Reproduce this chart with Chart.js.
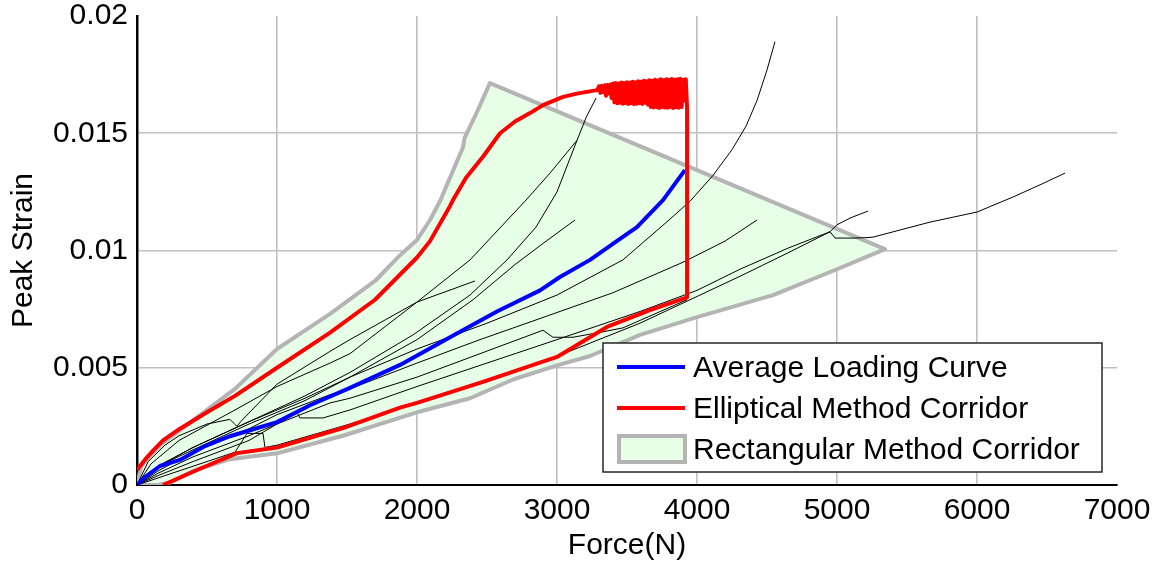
<!DOCTYPE html>
<html>
<head>
<meta charset="utf-8">
<title>Peak Strain vs Force</title>
<script src="https://cdn.jsdelivr.net/npm/chart.js@4.4.1/dist/chart.umd.min.js"></script>
<style>
  html, body { margin: 0; padding: 0; background: #fff; }
  #wrap { width: 1156px; height: 564px; }
</style>
</head>
<body>
<div id="wrap"><canvas id="chart"></canvas></div>
<script>
// axis ticks
const forceTicks = [0, 1000, 2000, 3000, 4000, 5000, 6000, 7000];
const forceTickLabels = ['0', '1000', '2000', '3000', '4000', '5000', '6000', '7000'];
const strainTicks = [0, 0.005, 0.01, 0.015, 0.02];
const strainTickLabels = ['0', '0.005', '0.01', '0.015', '0.02'];

const seriesLabels = ['Average Loading Curve', 'Elliptical Method Corridor', 'Rectangular Method Corridor'];

// [force (N), peak strain]
const averageCurve = [[0,0],[57,0.00034],[164,0.00081],[307,0.00107],[486,0.00166],[664,0.00208],[843,0.0024],
  [1000,0.00268],[1236,0.0034],[1521,0.00414],[1879,0.00512],[2236,0.0063],[2571,0.0074],[2879,0.0083],
  [3021,0.00887],[3236,0.0096],[3450,0.0105],[3571,0.011],[3757,0.01215],[3914,0.01343]];

const ellipticalUpper = [[0,0.00064],[60,0.0011],[120,0.0015],[186,0.0019],[307,0.0024],[500,0.0031],[700,0.0038],
  [1000,0.005],[1379,0.0065],[1700,0.0079],[2000,0.0097],[2093,0.0104],[2236,0.0119],[2257,0.01215],[2350,0.0131],
  [2471,0.014],[2593,0.015],[2700,0.0155],[2807,0.01586],[2900,0.0162],[3043,0.01655],[3150,0.0167],[3286,0.01684]];
// noisy end of the upper corridor edge
const ellipticalNoise = [[3290,0.01686],[3300,0.017],[3310,0.01672],[3320,0.01702],[3330,0.01676],[3340,0.01705],
  [3350,0.0166],[3360,0.01706],[3370,0.0167],[3380,0.01708],[3390,0.0165],[3400,0.01712],[3410,0.01632],
  [3420,0.01714],[3430,0.01628],[3440,0.01712],[3450,0.0163],[3460,0.01716],[3470,0.01626],[3480,0.01714],
  [3490,0.01628],[3500,0.01718],[3510,0.01625],[3520,0.01716],[3530,0.01628],[3540,0.0172],[3550,0.01624],
  [3560,0.01718],[3570,0.01626],[3580,0.01722],[3590,0.01628],[3600,0.0172],[3610,0.01625],[3620,0.01724],
  [3630,0.0163],[3640,0.01722],[3650,0.01622],[3660,0.01726],[3670,0.01612],[3680,0.01724],[3690,0.0161],
  [3700,0.01728],[3710,0.01612],[3720,0.01726],[3730,0.01608],[3740,0.0173],[3750,0.01612],[3760,0.01727],
  [3770,0.0161],[3780,0.0173],[3790,0.01609],[3800,0.01728],[3810,0.01612],[3820,0.01731],[3830,0.01608],
  [3840,0.01728],[3850,0.01611],[3860,0.0173],[3870,0.01609],[3880,0.01732],[3890,0.01612],[3900,0.01728],
  [3910,0.0164],[3920,0.0173],[3925,0.0166],[3929,0.0161]];
const ellipticalLower = [[3929,0.008],[3664,0.00746],[3357,0.00674],[3000,0.00546],[2471,0.0044],[2000,0.0035],
  [1879,0.0033],[1471,0.00243],[1000,0.0016],[714,0.00136],[429,0.00064],[186,0]];

const rectUpper = [[0,0],[30,0.0008],[100,0.0013],[186,0.0018],[300,0.0023],[500,0.0032],[700,0.0041],[1000,0.0058],
  [1379,0.0073],[1700,0.0087],[1879,0.0098],[2000,0.01045],[2093,0.0113],[2164,0.0121],[2250,0.0133],[2329,0.0144],
  [2340,0.0148],[2420,0.0158],[2521,0.01714]];
const rectLower = [[5343,0.01006],[5000,0.0092],[4543,0.0081],[4000,0.00716],[3593,0.0064],[3236,0.0055],[3000,0.0051],
  [2686,0.0045],[2379,0.0037],[2000,0.0031],[1471,0.0021],[1000,0.00135],[664,0.0011],[400,0.0006],[236,0.0001],
  [150,0],[0,0]];

// individual test curves
const test1 = [[0,0],[150,0.0008],[400,0.0016],[800,0.0027],[1200,0.0037],[1521,0.0046],[2000,0.0058],[2500,0.0069],
  [3000,0.0081],[3471,0.0096],[3800,0.0113],[3950,0.0121],[4114,0.0132],[4250,0.0143],[4350,0.0153],[4429,0.0164],
  [4500,0.0177],[4557,0.0189]];
const test2 = [[0,0],[150,0.0008],[400,0.0016],[800,0.0027],[1200,0.0038],[1521,0.0048],[1971,0.0064],[2379,0.0081],
  [2643,0.0096],[2850,0.011],[3000,0.0125],[3143,0.0147],[3210,0.0157],[3279,0.0165]];
const test3 = [[0,0],[100,0.0009],[300,0.0019],[700,0.0032],[1000,0.0042],[1379,0.0052],[1521,0.0056],[2000,0.0078],
  [2379,0.0096],[2771,0.0121],[2950,0.0133],[3143,0.0147]];
const test4 = [[0,0],[150,0.0008],[400,0.0015],[800,0.0026],[1200,0.0036],[1521,0.0046],[2000,0.0062],[2400,0.0079],
  [2700,0.0094],[2900,0.0103],[3129,0.0113]];
const test5 = [[0,0],[80,0.001],[200,0.0017],[300,0.0021],[500,0.0026],[664,0.0028],[714,0.0025],[740,0.0027],
  [1000,0.0043],[1379,0.0057],[1521,0.0062],[2000,0.0078],[2414,0.0087]];
const test6 = [[0,0],[150,0.0006],[400,0.0014],[800,0.0024],[1000,0.003],[1379,0.00385],[1521,0.0041],[2000,0.0052],
  [2450,0.0062],[2879,0.0071],[3400,0.0082],[3900,0.0095],[4200,0.0104],[4429,0.0113]];
const test7 = [[0,0],[150,0.0005],[400,0.0012],[800,0.0021],[1000,0.0026],[1379,0.0035],[1521,0.0037],[2000,0.0046],
  [2450,0.0056],[2900,0.0066],[2971,0.0063],[3114,0.0063],[3300,0.0065],[3471,0.0067],[3700,0.0073],[3929,0.0079]];
const test8 = [[0,0],[150,0.0004],[400,0.001],[800,0.0019],[1143,0.0031],[1164,0.00286],[1329,0.00286],[1521,0.0032],
  [2000,0.0042],[2500,0.0052],[3000,0.0062],[3593,0.0074],[4000,0.0083],[4307,0.0092],[4650,0.0101],[4950,0.0108],
  [4986,0.01053],[5114,0.01053],[5214,0.01055],[5257,0.01057],[5664,0.01121],[6000,0.01164],[6257,0.01228],
  [6450,0.0128],[6629,0.0133]];
const test9 = [[0,0],[200,0.0004],[500,0.001],[700,0.0014],[786,0.0022],[900,0.0022],[914,0.0016],[1000,0.0017],
  [1521,0.0026],[2000,0.0035],[2500,0.0044],[2879,0.0052],[3593,0.0069],[4307,0.0089],[4650,0.0099],[4950,0.0108],
  [5000,0.0111],[5100,0.0114],[5221,0.01168]];
const tests = [test1, test2, test3, test4, test5, test6, test7, test8, test9];

function toXY(pairs) {
  return pairs.map(p => ({x: p[0], y: p[1]}));
}

const FONT = "'Liberation Sans', Arial, sans-serif";
Chart.defaults.font.family = FONT;
Chart.defaults.color = '#000';

const datasets = [
  {
    label: seriesLabels[0],
    data: toXY(averageCurve),
    borderColor: '#0000ff',
    borderWidth: 4,
    order: 2
  },
  {
    label: seriesLabels[1],
    data: toXY(ellipticalUpper.concat(ellipticalNoise, ellipticalLower)),
    borderColor: '#ff0000',
    borderWidth: 4,
    order: 1
  },
  {
    label: seriesLabels[2],
    data: toXY(rectUpper.concat(rectLower)),
    borderColor: '#b4b4b4',
    backgroundColor: 'rgb(230,255,230)',
    borderWidth: 4,
    fill: 'shape',
    order: 4
  }
];
tests.forEach((t, i) => {
  datasets.push({
    label: 'Test ' + (i + 1),
    data: toXY(t),
    borderColor: '#000',
    borderWidth: 1,
    order: 3
  });
});
datasets.forEach(ds => {
  ds.showLine = true;
  ds.pointRadius = 0;
  ds.tension = 0;
  ds.borderJoinStyle = 'round';
  if (!ds.fill) ds.fill = false;
});

const cornerLegend = {
  id: 'cornerLegend',
  afterDraw(chart) {
    const {ctx, chartArea} = chart;
    const w = 499, h = 129;
    const left = chartArea.right - 15 - w;
    const top = chartArea.bottom - 13 - h;
    const rows = [24, 65, 106];
    ctx.save();
    ctx.fillStyle = '#fff';
    ctx.fillRect(left, top, w, h);
    ctx.lineWidth = 1.5;
    ctx.strokeStyle = '#262626';
    ctx.strokeRect(left, top, w, h);
    ctx.font = '30px ' + FONT;
    ctx.textBaseline = 'middle';
    chart.data.datasets.slice(0, 3).forEach((ds, i) => {
      const y = top + rows[i];
      if (ds.fill) {
        ctx.fillStyle = ds.backgroundColor;
        ctx.fillRect(left + 16, y - 13, 66, 26);
        ctx.lineWidth = 4;
        ctx.strokeStyle = ds.borderColor;
        ctx.strokeRect(left + 16, y - 13, 66, 26);
      } else {
        ctx.beginPath();
        ctx.moveTo(left + 14, y);
        ctx.lineTo(left + 82, y);
        ctx.lineWidth = ds.borderWidth;
        ctx.strokeStyle = ds.borderColor;
        ctx.stroke();
      }
      ctx.fillStyle = '#000';
      ctx.fillText(ds.label, left + 90, y + 2);
    });
    ctx.restore();
  }
};

new Chart(document.getElementById('chart'), {
  type: 'scatter',
  data: { datasets: datasets },
  plugins: [cornerLegend],
  options: {
    responsive: true,
    maintainAspectRatio: false,
    animation: false,
    events: [],
    layout: { padding: { top: 16, right: 39, bottom: 0, left: 0 } },
    plugins: {
      legend: { display: false },
      tooltip: { enabled: false }
    },
    scales: {
      x: {
        type: 'linear',
        min: 0,
        max: 7000,
        afterBuildTicks: axis => { axis.ticks = forceTicks.map(v => ({value: v})); },
        afterFit: axis => { axis.height = 79; },
        ticks: {
          autoSkip: false,
          maxRotation: 0,
          padding: 0,
          font: { size: 30, lineHeight: 1.72 },
          color: '#000',
          callback: (v, i) => forceTickLabels[i]
        },
        grid: {
          drawTicks: false,
          lineWidth: 1.6,
          color: c => (c.tick && c.tick.value === 7000) ? 'rgba(0,0,0,0)' : '#c0c0c0'
        },
        border: { display: true, color: '#000', width: 2 },
        title: {
          display: true,
          text: 'Force(N)',
          font: { size: 30, lineHeight: 1.2 },
          color: '#000',
          padding: { top: 0, bottom: 0 }
        }
      },
      y: {
        type: 'linear',
        min: 0,
        max: 0.02,
        afterBuildTicks: axis => { axis.ticks = strainTicks.map(v => ({value: v})); },
        afterFit: axis => { axis.width = 137; },
        ticks: {
          autoSkip: false,
          padding: 9,
          font: { size: 30, lineHeight: 0.2 },
          color: '#000',
          callback: (v, i) => strainTickLabels[i]
        },
        grid: {
          drawTicks: false,
          lineWidth: 1.6,
          color: c => (c.tick && c.tick.value === 0.02) ? 'rgba(0,0,0,0)' : '#c0c0c0'
        },
        border: { display: true, color: '#000', width: 2.5 },
        title: {
          display: true,
          text: 'Peak Strain',
          font: { size: 30, lineHeight: 1.2 },
          color: '#000',
          padding: { top: 6, bottom: 0 }
        }
      }
    }
  }
});
</script>
</body>
</html>
